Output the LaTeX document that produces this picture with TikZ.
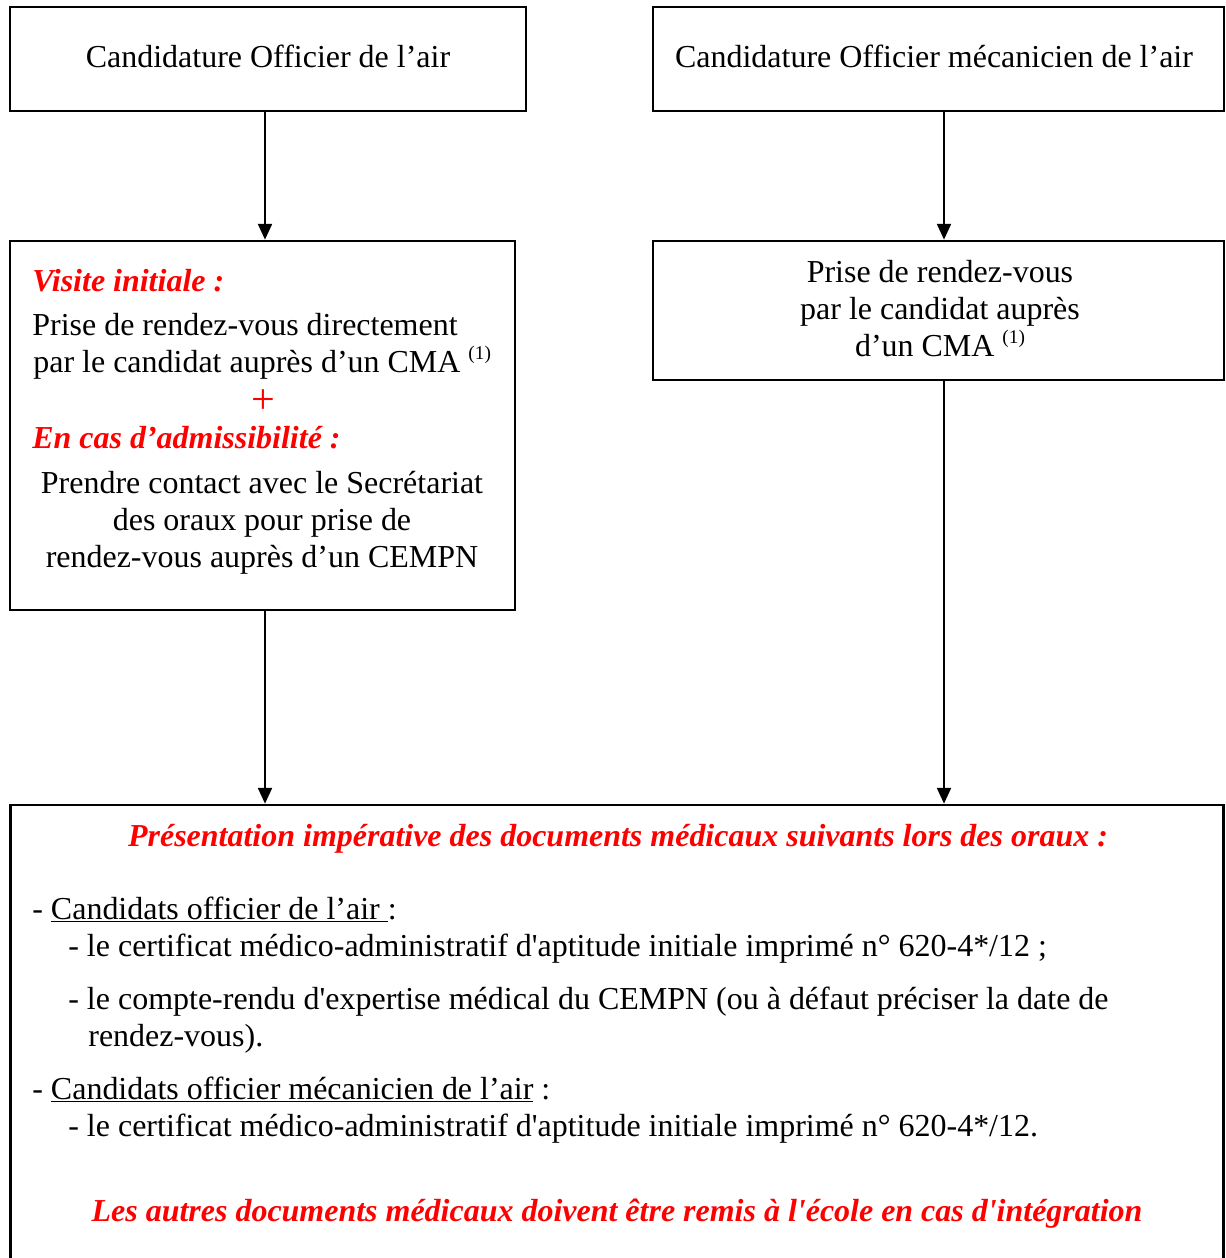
\documentclass[tikz,border=0pt]{standalone}
\usepackage{fontspec}
\setmainfont{Liberation Serif}[Ligatures=TeXOff]
\usetikzlibrary{arrows.meta,positioning}
\definecolor{alert}{HTML}{FF0000}
\tikzset{flowbox/.style={draw=black,line width=1.6pt,inner sep=0pt},
 flowarrow/.style={line width=1.1pt,-{Triangle[width=8pt,length=9pt]}},
 note/.style={font=\fontsize{18.2}{21}\selectfont,inner sep=0pt},
 alertnote/.style={note,text=alert,font=\fontsize{18.2}{21}\selectfont\bfseries\itshape}}
\newcommand{\refmark}{{\fontsize{11}{11}\selectfont\raisebox{7pt}{(1)}}}

\begin{document}
\begin{tikzpicture}[x=0.02cm,y=-0.02cm]
\useasboundingbox (0,0) rectangle (1226,1258);
\clip (0,0) rectangle (1226,1258);
\coordinate (colL) at (265,0); \coordinate (colR) at (944,0);
% boxes
\node[flowbox,minimum width=10.32cm,minimum height=2.08cm] (boxA) at (268,59) {};
\node[flowbox,minimum width=11.42cm,minimum height=2.08cm] (boxB) at (938.5,59) {};
\node[flowbox,minimum width=10.10cm,minimum height=7.38cm] (boxC) at (262.5,425.5) {};
\node[flowbox,minimum width=11.42cm,minimum height=2.78cm] (boxD) at (938.5,310.5) {};
\node[flowbox,minimum width=24.28cm,minimum height=9.70cm] (boxE) at (617,1047.5) {};
% arrows
\draw[flowarrow] (boxA.south -| colL) -- (boxC.north -| colL);
\draw[flowarrow] (boxB.south -| colR) -- (boxD.north -| colR);
\draw[flowarrow] (boxC.south -| colL) -- (boxE.north -| colL);
\draw[flowarrow] (boxD.south -| colR) -- (boxE.north -| colR);
% top boxes
\node[note,anchor=base] (candA) at (268,67) {Candidature Officier de l’air};
\node[note,anchor=base] (candB) at (934,67) {Candidature Officier mécanicien de l’air};
% left box
\node[alertnote,anchor=base west] (visite) at (32,291) {Visite initiale :};
\node[note,anchor=base west] (priseA) at (32,335) {Prise de rendez-vous directement};
\node[note,anchor=base west] (priseB) at (33,372) {par le candidat auprès d’un CMA \refmark};
\node[alertnote,font=\fontsize{24}{24}\selectfont,anchor=base] (plus) at (263,413) {+};
\node[alertnote,anchor=base west] (admis) at (32,448) {En cas d’admissibilité :};
\node[note,align=center,anchor=base] (contact) at (262,567) {Prendre contact avec le Secrétariat\\des oraux pour prise de\\rendez-vous auprès d’un CEMPN};
% right box
\node[note,align=center,anchor=base] (priseD) at (940,356) {Prise de rendez-vous\\par le candidat auprès\\d’un CMA \refmark};
% bottom box
\node[alertnote,anchor=base] (titre) at (618,846) {Présentation impérative des documents médicaux suivants lors des oraux :};
\node[note,anchor=base west] (offA) at (32,919) {- \underline{Candidats officier de l’air }:};
\node[note,anchor=base west] (certA) at (68,956) {- le certificat médico-administratif d'aptitude initiale imprimé n° 620-4*/12 ;};
\node[note,anchor=base west] (cr) at (68,1009) {- le compte-rendu d'expertise médical du CEMPN (ou à défaut préciser la date de};
\node[note,anchor=base west] (crB) at (88,1046) {rendez-vous).};
\node[note,anchor=base west] (offB) at (32,1099) {- \underline{Candidats officier mécanicien de l’air} :};
\node[note,anchor=base west] (certB) at (68,1136) {- le certificat médico-administratif d'aptitude initiale imprimé n° 620-4*/12.};
\node[alertnote,anchor=base] (autres) at (617,1221) {Les autres documents médicaux doivent être remis à l'école en cas d'intégration};
\end{tikzpicture}
\end{document}
